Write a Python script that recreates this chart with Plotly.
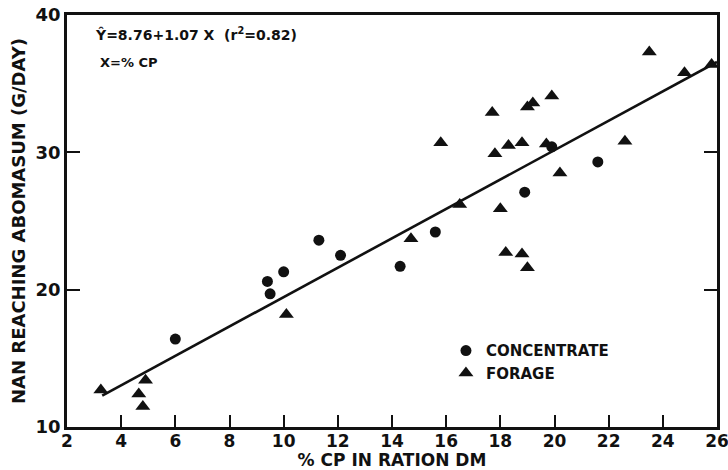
import plotly.graph_objects as go

# % CP in ration DM vs NAN reaching abomasum (g/day)
conc_x = [6.0, 9.4, 9.5, 10.0, 11.3, 12.1, 14.3, 15.6, 18.9, 19.9, 21.6]
conc_y = [16.4, 20.6, 19.7, 21.3, 23.6, 22.5, 21.7, 24.2, 27.1, 30.4, 29.3]

forage_x = [3.25, 4.65, 4.8, 4.9, 10.1, 14.7, 15.8, 16.5, 17.7, 17.8, 18.0, 18.2,
            18.3, 18.8, 18.8, 19.0, 19.0, 19.2, 19.7, 19.9, 20.2, 22.6, 23.5, 24.8, 25.8]
forage_y = [12.7, 12.4, 11.5, 13.4, 18.2, 23.7, 30.7, 26.2, 32.9, 29.9, 25.9, 22.7,
            30.5, 30.7, 22.6, 21.6, 33.3, 33.6, 30.6, 34.1, 28.5, 30.8, 37.3, 35.8, 36.4]

# fitted regression: y = 8.76 + 1.07 x
intercept = 8.76
slope = 1.07
fit_x = [3.3, 26.0]
fit_y = [intercept + slope * v for v in fit_x]

x_ticks = [2, 4, 6, 8, 10, 12, 14, 16, 18, 20, 22, 24, 26]
y_ticks = [10, 20, 30, 40]

FONT = "DejaVu Sans"
INK = "#111111"

fig = go.Figure()
fig.add_trace(go.Scatter(
    x=fit_x, y=fit_y, mode="lines", showlegend=False,
    line=dict(color=INK, width=2.6), hoverinfo="skip"))
fig.add_trace(go.Scatter(
    x=conc_x, y=conc_y, mode="markers", name="CONCENTRATE",
    marker=dict(symbol="circle", size=11, color=INK)))
fig.add_trace(go.Scatter(
    x=forage_x, y=forage_y, mode="markers", name="FORAGE",
    marker=dict(symbol="triangle-up", size=13, color=INK)))

fig.update_layout(
    width=728, height=470,
    margin=dict(l=67, r=11, t=15, b=43, autoexpand=False),
    paper_bgcolor="white", plot_bgcolor="white",
    font=dict(family=FONT, color=INK),
    legend=dict(
        x=0.583, y=0.225, xanchor="left", yanchor="top",
        bgcolor="rgba(0,0,0,0)", tracegroupgap=0,
        font=dict(family=FONT, size=15, color=INK, weight="bold"),
        itemwidth=30),
    xaxis=dict(
        range=[2, 26], tickmode="array", tickvals=x_ticks,
        ticktext=[str(v) for v in x_ticks], automargin=False,
        ticklabeloverflow="allow", ticklabelstandoff=-3,
        ticks="inside", ticklen=12, tickwidth=2.2, tickcolor=INK,
        showline=True, linewidth=2.8, linecolor=INK, mirror=True,
        showgrid=False, zeroline=False,
        tickfont=dict(family=FONT, size=17, color=INK, weight="bold"),
        title=dict(text="% CP IN RATION DM", standoff=0,
                   font=dict(family=FONT, size=17, color=INK, weight="bold"))),
    yaxis=dict(
        range=[10, 40], tickmode="array", tickvals=y_ticks,
        ticktext=[str(v) for v in y_ticks], automargin=False,
        ticklabeloverflow="allow",
        ticks="inside", ticklen=13, tickwidth=2.2, tickcolor=INK,
        showline=True, linewidth=2.8, linecolor=INK, mirror="ticks",
        showgrid=False, zeroline=False,
        tickfont=dict(family=FONT, size=18, color=INK, weight="bold"),
        title=dict(text="NAN REACHING ABOMASUM (G/DAY)", standoff=6,
                   font=dict(family=FONT, size=18, color=INK, weight="bold"))),
)

fig.add_annotation(
    xref="paper", yref="paper", x=0.04, y=0.955, xanchor="left", yanchor="middle",
    text="Ŷ=8.76+1.07 X  (r<sup>2</sup>=0.82)", showarrow=False,
    font=dict(family=FONT, size=14, color=INK, weight="bold"))
fig.add_annotation(
    xref="paper", yref="paper", x=0.047, y=0.885, xanchor="left", yanchor="middle",
    text="X=% CP", showarrow=False,
    font=dict(family=FONT, size=13, color=INK, weight="bold"))

fig.write_html("out.html")
